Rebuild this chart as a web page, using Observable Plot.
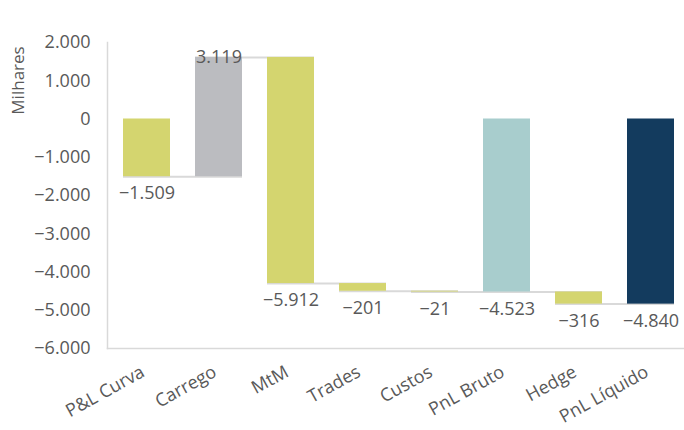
<!DOCTYPE html>
<html><head><meta charset="utf-8">
<script src="https://cdn.jsdelivr.net/npm/d3@7"></script>
<script src="https://cdn.jsdelivr.net/npm/@observablehq/plot@0.6"></script>
<style>
body{margin:0;background:#fff;}
#chart svg [aria-label="x-axis tick label"] text{font-size:18px;}
</style>
</head><body><div id="chart"></div>
<script>
const categories = ["P&L Curva","Carrego","MtM","Trades","Custos","PnL Bruto","Hedge","PnL Líquido"];
const values = [-1509, 3119, -5912, -201, -21, -4523, -316, -4840];
const isTotal = [false,false,false,false,false,true,false,true];
const yTicks = [2000,1000,0,-1000,-2000,-3000,-4000,-5000,-6000];
const yLabel = ["Milhares"];
const kinds = ["neg","pos","bruto","liquido"];
const kindColors = ["#d4d56f","#bbbcc0","#a8cdcd","#133b5e"];

const fmt = d3.formatLocale({decimal:",", thousands:".", grouping:[3], currency:["",""], minus:"\u2212"}).format(",.0f");

let run = 0;
const rows = categories.map((c,i)=>{
  const v = values[i];
  let y1, y2;
  if (isTotal[i]) { y1 = 0; y2 = v; run = v; } else { y1 = run; y2 = run + v; run = y2; }
  const kind = c === "PnL Bruto" ? "bruto" : c === "PnL Líquido" ? "liquido" : v >= 0 ? "pos" : "neg";
  return {cat:c, value:v, y1, y2, lo:Math.min(y1,y2), hi:Math.max(y1,y2), end:run, kind};
});
const links = rows.slice(0,-1).map((r,i)=>({a:r.cat, b:rows[i+1].cat, y:r.end}));

const chart = Plot.plot({
  width:684, height:430, marginTop:42, marginBottom:82, marginLeft:107, marginRight:0,
  style:{fontFamily:"'Open Sans', sans-serif", fontSize:"18px", color:"#595959", background:"#fff"},
  x:{domain:categories, paddingInner:0.35, paddingOuter:0.145, align:0.62, label:null},
  y:{domain:[-6000,2000], label:null},
  color:{domain:kinds, range:kindColors},
  marks:[
    Plot.ruleY(links, {x1:"a", x2:"b", y:"y", stroke:"#d9d9d9", strokeWidth:2}),
    Plot.barY(rows, {x:"cat", y1:"y1", y2:"y2", fill:"kind"}),
    Plot.text(rows.filter(d=>d.value<0), {x:"cat", y:"lo", text:d=>fmt(d.value), dy:17, fontSize:18, fill:"#595959"}),
    Plot.text(rows.filter(d=>d.value>=0), {x:"cat", y:"hi", text:d=>fmt(d.value), dy:0, fontSize:18, fill:"#595959"}),
    Plot.axisY({ticks:yTicks, tickSize:0, tickPadding:17, tickFormat:fmt, label:null}),
    Plot.axisX({tickSize:0, tickPadding:22, tickRotate:-29, dx:-4, label:null}),
    Plot.frame({anchor:"left", stroke:"#d9d9d9", strokeWidth:1.5}),
    Plot.frame({anchor:"bottom", stroke:"#d9d9d9", strokeWidth:1.5}),
    Plot.text(yLabel, {frameAnchor:"top-left", textAnchor:"middle", dx:-96, dy:38, rotate:-90, fontSize:17, fill:"#595959"})
  ]
});
document.getElementById("chart").appendChild(chart);
</script>
</body></html>
